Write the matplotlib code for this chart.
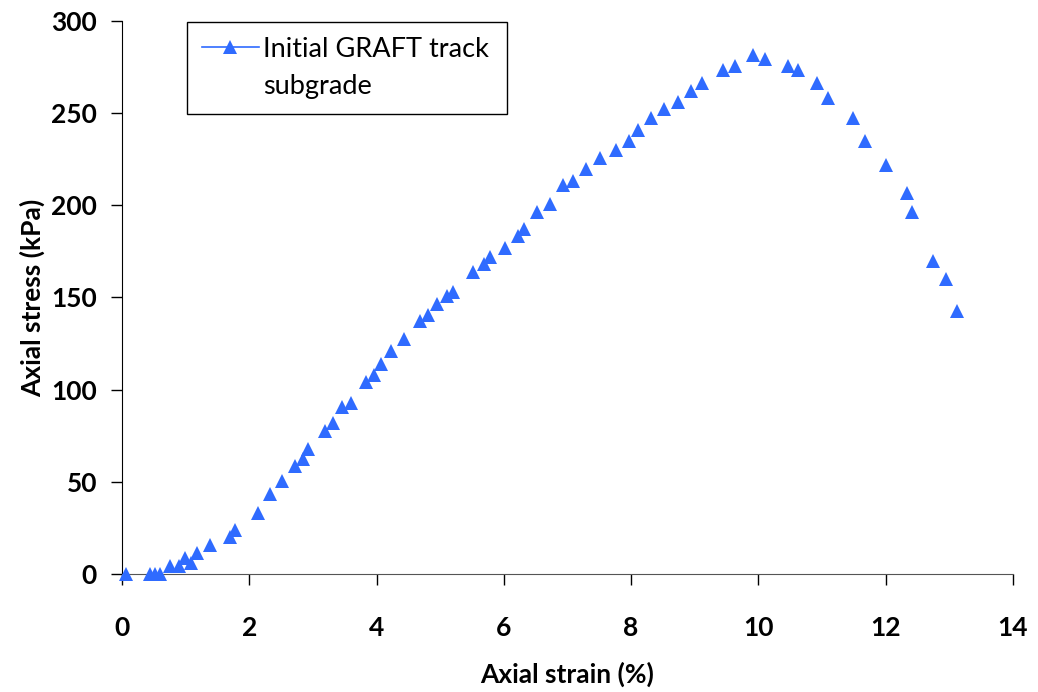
import matplotlib
matplotlib.use('Agg')
import matplotlib.pyplot as plt
from matplotlib.lines import Line2D

# strain (%) and stress (kPa) from the unconfined test
deformacion = [0.06, 0.44, 0.52, 0.59, 0.76, 0.90, 0.99, 1.09, 1.18, 1.39,
               1.69, 1.78, 2.13, 2.33, 2.51, 2.72, 2.84, 2.92, 3.19, 3.31,
               3.45, 3.60, 3.83, 3.96, 4.07, 4.22, 4.43, 4.69, 4.81, 4.95,
               5.10, 5.20, 5.51, 5.69, 5.78, 6.02, 6.23, 6.32, 6.52, 6.73,
               6.93, 7.08, 7.29, 7.51, 7.76, 7.97, 8.11, 8.32, 8.52, 8.73,
               8.94, 9.11, 9.44, 9.64, 9.91, 10.11, 10.47, 10.62, 10.92, 11.09,
               11.48, 11.68, 12.00, 12.33, 12.42, 12.74, 12.94, 13.12]
esfuerzo = [0, 0, 0, 0, 4.5, 4.3, 8.7, 6.1, 11.6, 15.7,
            19.9, 23.9, 32.9, 43.2, 50.5, 58.6, 62.4, 67.7, 77.6, 81.8,
            90.8, 93.0, 104.0, 108.0, 114.0, 121.0, 127.3, 137.4, 140.5, 146.5,
            150.8, 152.8, 163.9, 168.0, 172.2, 177.0, 183.4, 187.4, 196.3, 200.6,
            210.9, 213.2, 219.7, 225.6, 230.0, 234.9, 240.9, 247.3, 252.3, 256.3,
            262.2, 266.6, 273.5, 275.6, 281.6, 279.6, 275.6, 273.5, 266.6, 258.4,
            247.3, 235.1, 221.9, 206.6, 196.6, 170.0, 159.9, 142.7]
# the legend label wraps onto two lines
etiqueta = ['Initial GRAFT track', 'subgrade']
ticks_x = [0, 2, 4, 6, 8, 10, 12, 14]
ticks_y = [0, 50, 100, 150, 200, 250, 300]

AZUL = '#2F6BFF'
plt.rcParams['font.family'] = ['Lato', 'DejaVu Sans']

fig = plt.figure(figsize=(10.38, 6.92), dpi=100)
ax = fig.add_axes([0.1175, 0.1705, 0.8584, 0.7992])

ax.plot(deformacion, esfuerzo, linestyle='none', marker='^', markersize=10,
        color=AZUL, markeredgewidth=0, clip_on=False, zorder=3)

ax.set_xlim(0, 14)
ax.set_ylim(0, 300)
ax.set_xticks(ticks_x)
ax.set_yticks(ticks_y)
ax.tick_params(direction='out', length=8, width=1, labelsize=19)
ax.tick_params(axis='x', pad=22)
ax.tick_params(axis='y', pad=10)
for lbl in ax.get_xticklabels() + ax.get_yticklabels():
    lbl.set_fontweight('bold')
ax.spines['top'].set_visible(False)
ax.spines['right'].set_visible(False)
ax.spines['left'].set_color('black')
ax.spines['bottom'].set_color('#555555')

ax.set_xlabel('Axial strain (%)', fontsize=19, fontweight='bold', labelpad=16)
ax.set_ylabel('Axial stress (kPa)', fontsize=19, fontweight='bold', labelpad=4)

# handle sits next to the first line only, second line gets an empty handle
proxy = Line2D([0], [0], color=AZUL, linewidth=1.2, marker='^', markersize=10,
               markeredgewidth=0)
vacio = Line2D([0], [0], linestyle='none', marker='none')
leg = ax.legend([proxy, vacio], etiqueta, loc='upper left',
                bbox_to_anchor=(0.073, 0.839, 0.359, 0.159), mode='expand',
                borderaxespad=0, fancybox=False, framealpha=1, numpoints=1,
                handlelength=2.1, handletextpad=0.15, fontsize=19.5,
                borderpad=0.55, labelspacing=0.45)
leg.get_frame().set_edgecolor('black')
leg.get_frame().set_linewidth(1)

fig.savefig('out.png', dpi=100)
